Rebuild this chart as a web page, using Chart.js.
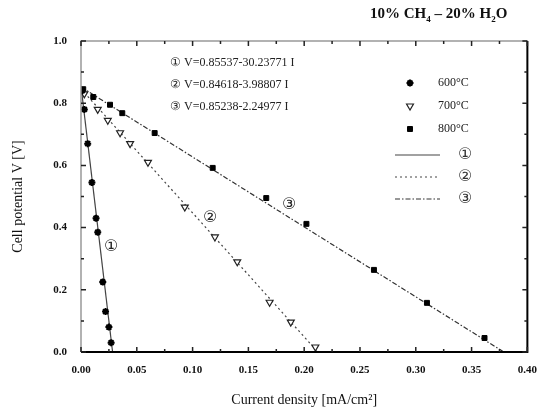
<!DOCTYPE html>
<html>
<head>
<meta charset="utf-8">
<script src="https://cdn.jsdelivr.net/npm/chart.js@4.4.1/dist/chart.umd.min.js"></script>
<style>
  html, body { margin: 0; padding: 0; background: #fff; }
  #wrap { position: relative; width: 541px; height: 413px; }
  #title {
    position: absolute; left: 370px; top: 5px;
    font: bold 15px "Liberation Serif", serif; color: #111; white-space: nowrap;
  }
  #title sub { font-size: 9px; }
</style>
</head>
<body>
<div id="wrap">
  <canvas id="c" width="541" height="413"></canvas>
  <div id="title">10% CH<sub>4</sub> &ndash; 20% H<sub>2</sub>O</div>
</div>
<script>
const t600X = [0.001, 0.003, 0.006, 0.0098, 0.0135, 0.015, 0.0195, 0.022, 0.025, 0.027];
const t600Y = [0.84, 0.78, 0.67, 0.545, 0.43, 0.385, 0.225, 0.13, 0.08, 0.03];

const t700X = [0.003, 0.015, 0.024, 0.035, 0.044, 0.06, 0.093, 0.12, 0.14, 0.169, 0.188, 0.21];
const t700Y = [0.83, 0.78, 0.745, 0.705, 0.67, 0.61, 0.466, 0.37, 0.29, 0.16, 0.096, 0.016];

const t800X = [0.002, 0.011, 0.026, 0.037, 0.066, 0.118, 0.166, 0.202, 0.2625, 0.31, 0.3616];
const t800Y = [0.845, 0.82, 0.795, 0.768, 0.704, 0.592, 0.495, 0.412, 0.264, 0.158, 0.045];

// linear fits, endpoints as drawn
const fit1X = [0, 0.0283], fit1Y = [0.855, 0];
const fit2X = [0, 0.2122], fit2Y = [0.846, 0];
const fit3X = [0, 0.3789], fit3Y = [0.852, 0];

const seriesLabels = ['600\u00B0C', '700\u00B0C', '800\u00B0C'];
const fitLabels = ['\u2460', '\u2461', '\u2462'];
const equations = [
  '\u2460 V=0.85537-30.23771 I',
  '\u2461 V=0.84618-3.98807 I',
  '\u2462 V=0.85238-2.24977 I',
];

const xTicks = [0, 0.05, 0.10, 0.15, 0.20, 0.25, 0.30, 0.35, 0.40];
const yTicks = [0, 0.2, 0.4, 0.6, 0.8, 1.0];

const pts = (xs, ys) => xs.map((x, i) => ({ x, y: ys[i] }));
const SERIF = '"Liberation Serif", "DejaVu Serif", serif';

const frame = {
  id: 'frame',
  afterDraw(chart) {
    const { ctx, chartArea: a, scales: { x, y } } = chart;
    ctx.save();
    // box
    ctx.strokeStyle = '#999';
    ctx.lineWidth = 1.5;
    ctx.beginPath();
    ctx.moveTo(a.left, a.bottom); ctx.lineTo(a.left, a.top); ctx.lineTo(a.right, a.top);
    ctx.stroke();
    ctx.strokeStyle = '#000';
    ctx.lineWidth = 2;
    ctx.beginPath();
    ctx.moveTo(a.left, a.bottom); ctx.lineTo(a.right, a.bottom); ctx.lineTo(a.right, a.top);
    ctx.stroke();

    // inward ticks
    ctx.lineWidth = 1.5;
    ctx.strokeStyle = '#222';
    for (let v = 0; v <= 0.4001; v += 0.025) {
      const px = x.getPixelForValue(v);
      const len = Math.abs(v / 0.05 - Math.round(v / 0.05)) < 1e-6 ? 5 : 3;
      ctx.beginPath();
      ctx.moveTo(px, a.bottom); ctx.lineTo(px, a.bottom - len);
      ctx.moveTo(px, a.top); ctx.lineTo(px, a.top + len);
      ctx.stroke();
    }
    for (let v = 0; v <= 1.0001; v += 0.1) {
      const py = y.getPixelForValue(v);
      const len = Math.abs(v / 0.2 - Math.round(v / 0.2)) < 1e-6 ? 5 : 3;
      ctx.beginPath();
      ctx.moveTo(a.left, py); ctx.lineTo(a.left + len, py);
      ctx.moveTo(a.right, py); ctx.lineTo(a.right - len, py);
      ctx.stroke();
    }

    // equations
    ctx.fillStyle = '#222';
    ctx.font = '12px ' + SERIF;
    ctx.textBaseline = 'middle';
    equations.forEach((t, i) => ctx.fillText(t, 170, 63 + i * 22));

    // circled labels on the lines
    ctx.font = '16px "DejaVu Sans", sans-serif';
    ctx.fillText(fitLabels[0], 104, 247);
    ctx.fillText(fitLabels[1], 203, 218);
    ctx.fillText(fitLabels[2], 282, 205);

    // legend
    const ds = chart.data.datasets;
    const lx = 410, tx = 438;
    ctx.font = '12px ' + SERIF;
    for (let i = 0; i < 3; i++) {
      const d = ds[i];
      const yy = 83 + i * 23;
      ctx.fillStyle = d.backgroundColor;
      ctx.strokeStyle = d.borderColor;
      ctx.lineWidth = d.borderWidth;
      Chart.helpers.drawPoint(ctx, {
        pointStyle: d.pointStyle, radius: d.pointRadius, rotation: d.rotation || 0, borderWidth: d.borderWidth
      }, lx, yy);
      ctx.fillStyle = '#222';
      ctx.fillText(seriesLabels[i], tx, yy);
    }
    for (let i = 0; i < 3; i++) {
      const d = ds[3 + i];
      const yy = 155 + i * 22;
      ctx.strokeStyle = d.borderColor;
      ctx.lineWidth = d.borderWidth;
      ctx.setLineDash(d.borderDash || []);
      ctx.beginPath();
      ctx.moveTo(395, yy); ctx.lineTo(440, yy);
      ctx.stroke();
      ctx.setLineDash([]);
      ctx.fillStyle = '#333';
      ctx.font = '16px "DejaVu Sans", sans-serif';
      ctx.fillText(fitLabels[i], 458, yy);
    }
    ctx.restore();
  }
};

new Chart(document.getElementById('c'), {
  type: 'scatter',
  data: {
    datasets: [
      { label: seriesLabels[0], data: pts(t600X, t600Y), pointStyle: 'star', pointRadius: 3.5,
        backgroundColor: '#000', borderColor: '#000', borderWidth: 2 },
      { label: seriesLabels[1], data: pts(t700X, t700Y), pointStyle: 'triangle', rotation: 180, pointRadius: 4,
        backgroundColor: '#fff', borderColor: '#222', borderWidth: 1.2 },
      { label: seriesLabels[2], data: pts(t800X, t800Y), pointStyle: 'rect', pointRadius: 3.5,
        backgroundColor: '#000', borderColor: '#000', borderWidth: 1 },
      { label: fitLabels[0], data: pts(fit1X, fit1Y), showLine: true, pointRadius: 0,
        borderColor: '#444', backgroundColor: '#444', borderWidth: 1.2 },
      { label: fitLabels[1], data: pts(fit2X, fit2Y), showLine: true, pointRadius: 0,
        borderColor: '#444', backgroundColor: '#444', borderWidth: 1.2, borderDash: [2, 3] },
      { label: fitLabels[2], data: pts(fit3X, fit3Y), showLine: true, pointRadius: 0,
        borderColor: '#333', backgroundColor: '#333', borderWidth: 1.2, borderDash: [5, 2, 1.5, 2] },
    ],
  },
  options: {
    responsive: false,
    animation: false,
    layout: { padding: { top: 41, right: 12, left: 0, bottom: 0 } },
    plugins: { legend: { display: false }, tooltip: { enabled: false } },
    scales: {
      x: {
        type: 'linear', min: 0, max: 0.4,
        afterFit(s) { s.height = 61; },
        afterBuildTicks(s) { s.ticks = xTicks.map(v => ({ value: v })); },
        grid: { display: false }, border: { display: false },
        ticks: { color: '#111', padding: 4, maxRotation: 0,
          font: { family: SERIF, size: 11, weight: 'bold' },
          callback: v => v.toFixed(2) },
        title: { display: true, text: 'Current density [mA/cm\u00B2]', color: '#111',
          font: { family: SERIF, size: 14 }, padding: { top: 12 } },
      },
      y: {
        type: 'linear', min: 0, max: 1.0,
        afterFit(s) { s.width = 81; },
        afterBuildTicks(s) { s.ticks = yTicks.map(v => ({ value: v })); },
        grid: { display: false }, border: { display: false },
        ticks: { color: '#111', padding: 6,
          font: { family: SERIF, size: 11, weight: 'bold' },
          callback: v => v.toFixed(1) },
        title: { display: true, text: 'Cell potential V [V]', color: '#111',
          font: { family: SERIF, size: 14 }, padding: { top: 10, bottom: 4 } },
      },
    },
  },
  plugins: [frame],
});
</script>
</body>
</html>
